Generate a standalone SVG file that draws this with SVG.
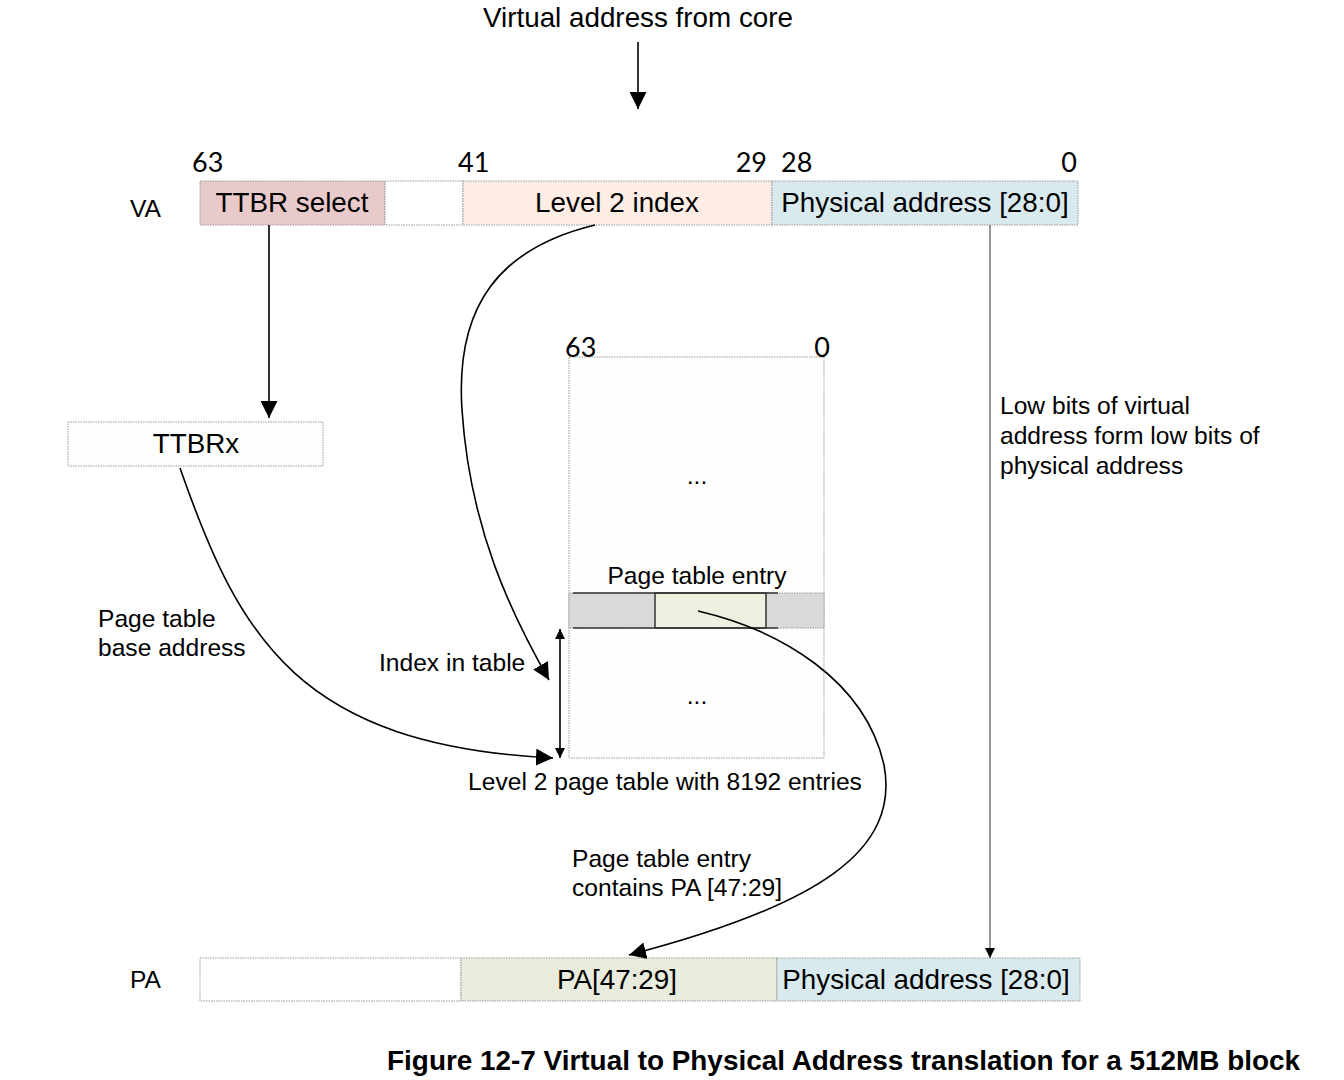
<svg xmlns="http://www.w3.org/2000/svg" width="1344" height="1080" viewBox="0 0 1344 1080">
<style>
text{font-family:"Liberation Sans",Arial,sans-serif;fill:#000}
.big{font-size:27.8px}
.lbl{font-size:24.6px}
.num{font-family:Lato,"Open Sans",sans-serif;font-size:27px}
.cap{font-size:27.9px;font-weight:bold}
.fld{stroke:#9a9a9a;stroke-width:1;stroke-dasharray:1.5 1}
.ln{fill:none;stroke:#000;stroke-width:1.6}
</style>
<defs>
<marker id="ah" viewBox="0 0 10 10" refX="10" refY="5" markerWidth="10" markerHeight="10" markerUnits="userSpaceOnUse" orient="auto-start-reverse">
<path d="M0,0 L10,5 L0,10 z" fill="#000"/>
</marker>
<marker id="ahb" viewBox="0 0 10 10" refX="10" refY="5" markerWidth="17" markerHeight="17" markerUnits="userSpaceOnUse" orient="auto-start-reverse">
<path d="M0,0 L10,5 L0,10 z" fill="#000"/>
</marker>
</defs>
<rect width="1344" height="1080" fill="#fff"/>

<g id="title">
<text class="big" x="638" y="27" text-anchor="middle">Virtual address from core</text>
</g>

<g id="va">
<text class="lbl" x="130" y="217">VA</text>
<rect class="fld" x="200" y="181" width="185" height="44" fill="#e9caca"/>
<rect class="fld" x="385" y="181" width="78" height="44" fill="#fff"/>
<rect class="fld" x="463" y="181" width="309" height="44" fill="#fdede4"/>
<rect class="fld" x="772" y="181" width="306" height="44" fill="#d9eaef"/>
<text class="big" x="292" y="212" text-anchor="middle">TTBR select</text>
<text class="big" x="617" y="212" text-anchor="middle">Level 2 index</text>
<text class="big" x="925" y="212" text-anchor="middle">Physical address [28:0]</text>
<text class="num" x="192" y="172">63</text>
<text class="num" x="458" y="172">41</text>
<text class="num" x="767" y="172" text-anchor="end">29</text>
<text class="num" x="781" y="172">28</text>
<text class="num" x="1077" y="172" text-anchor="end">0</text>
</g>

<g id="ttbrx">
<rect class="fld" x="68" y="422" width="255" height="44" fill="#fefefc"/>
<text class="big" x="196" y="453" text-anchor="middle">TTBRx</text>
</g>

<g id="pagetable">
<rect class="fld" x="569" y="357" width="255" height="401" fill="#fefefc"/>
<text class="num" x="565" y="357">63</text>
<text class="num" x="830" y="357" text-anchor="end">0</text>
<text class="lbl" x="697" y="484" text-anchor="middle">...</text>
<text class="lbl" x="697" y="584" text-anchor="middle">Page table entry</text>
<rect class="fld" x="569" y="593" width="255" height="35" fill="#d9d9d9"/>
<rect x="655" y="593" width="111" height="35" fill="#eeefde" stroke="#333" stroke-width="1.5"/>
<line x1="573" y1="593" x2="778" y2="593" stroke="#333" stroke-width="1.5"/>
<line x1="573" y1="628" x2="778" y2="628" stroke="#333" stroke-width="1.5"/>
<text class="lbl" x="697" y="704" text-anchor="middle">...</text>
<text class="lbl" x="665" y="790" text-anchor="middle">Level 2 page table with 8192 entries</text>
</g>

<g id="pa">
<text class="lbl" x="130" y="988">PA</text>
<rect class="fld" x="200" y="958" width="261" height="43" fill="#fff"/>
<rect class="fld" x="461" y="958" width="316" height="43" fill="#e9ecdc"/>
<rect class="fld" x="777" y="958" width="303" height="43" fill="#d9eaef"/>
<text class="big" x="617" y="989" text-anchor="middle">PA[47:29]</text>
<text class="big" x="926" y="989" text-anchor="middle">Physical address [28:0]</text>
</g>

<g id="labels">
<text class="lbl" x="98" y="627">Page table</text>
<text class="lbl" x="98" y="656">base address</text>
<text class="lbl" x="379" y="671">Index in table</text>
<text class="lbl" x="572" y="867">Page table entry</text>
<text class="lbl" x="572" y="896">contains PA [47:29]</text>
<text class="lbl" x="1000" y="414">Low bits of virtual</text>
<text class="lbl" x="1000" y="444">address form low bits of</text>
<text class="lbl" x="1000" y="474">physical address</text>
</g>

<g id="connectors">
<line class="ln" x1="638" y1="42" x2="638" y2="109" stroke-width="2.4" marker-end="url(#ahb)"/>
<line class="ln" x1="269" y1="225" x2="269" y2="418" stroke-width="2.4" marker-end="url(#ahb)"/>
<path class="ln" d="M595,225 C500,248 455,305 462,410 C470,530 512,615 549,680" marker-end="url(#ahb)"/>
<path class="ln" d="M180,468 C240,640 300,745 553,758" marker-end="url(#ahb)"/>
<line class="ln" x1="560" y1="629" x2="560" y2="758" marker-start="url(#ah)" marker-end="url(#ah)"/>
<path class="ln" d="M698,611 C780,630 865,680 884,765 C900,850 820,905 629,955" marker-end="url(#ahb)"/>
<line x1="990" y1="225" x2="990" y2="958" stroke="#555" stroke-width="1.2" marker-end="url(#ah)"/>
</g>

<g id="caption">
<text class="cap" x="1300" y="1070" text-anchor="end">Figure 12-7 Virtual to Physical Address translation for a 512MB block</text>
</g>
</svg>
